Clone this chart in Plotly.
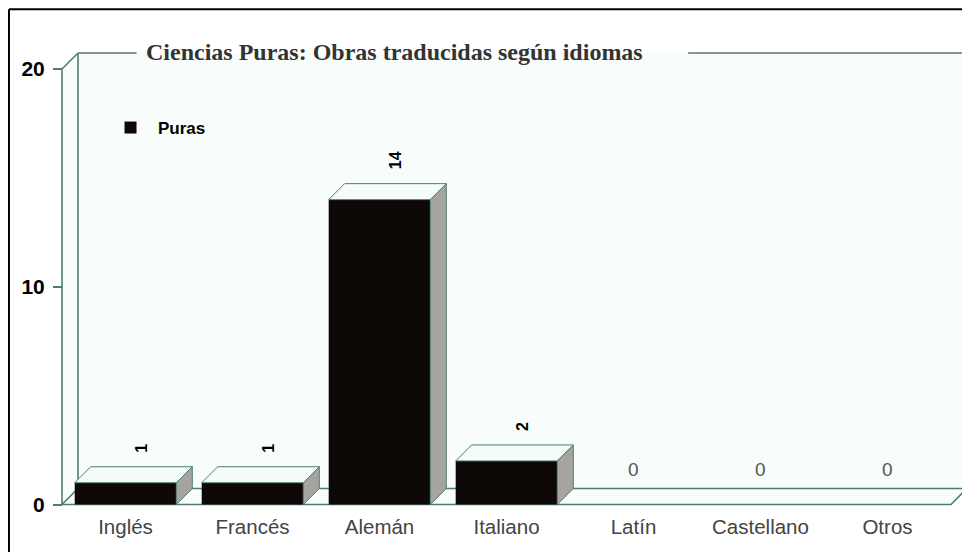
import plotly.graph_objects as go

idiomas = ['Inglés', 'Francés', 'Alemán', 'Italiano', 'Latín', 'Castellano', 'Otros']
obras = [1, 1, 14, 2, 0, 0, 0]
ticks_y = [0, 10, 20]

TITULO = 'Ciencias Puras: Obras traducidas según idiomas'
VERDE = '#4f7d6f'
FONDO = '#f8fdfb'

# escala en pixeles, para simular la profundidad 3D
PX_X = 127.0
PX_Y = 21.775
DX = 16 / PX_X
DY = 16 / PX_Y
ANCHO = 0.8
Y_MAX = 20
pos = list(range(len(idiomas)))
x_izq, x_der = -0.5, len(idiomas) - 0.5

fig = go.Figure()

fig.add_trace(go.Bar(
    x=pos, y=obras, width=ANCHO, name='Puras',
    marker=dict(color='#0e0907', line=dict(width=0)),
    hoverinfo='skip'))

# caras superiores y laterales de cada barra
for p, v in zip(pos, obras):
    if v == 0:
        continue
    a, b = p - ANCHO / 2, p + ANCHO / 2
    fig.add_trace(go.Scatter(
        x=[a, a + DX, b + DX, b, a], y=[v, v + DY, v + DY, v, v],
        mode='lines', fill='toself', fillcolor='#f3fcf8',
        line=dict(color=VERDE, width=1), showlegend=False, hoverinfo='skip'))
    fig.add_trace(go.Scatter(
        x=[b, b, b + DX, b + DX, b], y=[0, v, v + DY, DY, 0],
        mode='lines', fill='toself', fillcolor='#a5a49e',
        line=dict(color=VERDE, width=1), showlegend=False, hoverinfo='skip'))

shapes = []
linea = dict(color=VERDE, width=1.6)
# pared del fondo y lateral
shapes.append(dict(type='rect', xref='x', yref='y', layer='below',
                   x0=x_izq + DX, x1=x_der + DX, y0=DY, y1=Y_MAX + DY,
                   fillcolor=FONDO, line=dict(width=0)))
shapes.append(dict(type='path', xref='x', yref='y', layer='below',
                   path=f'M{x_izq},0 L{x_izq + DX},{DY} L{x_izq + DX},{Y_MAX + DY} L{x_izq},{Y_MAX} Z',
                   fillcolor=FONDO, line=dict(width=0)))
# suelo
shapes.append(dict(type='path', xref='x', yref='y', layer='below',
                   path=f'M{x_izq},0 L{x_der},0 L{x_der + DX},{DY} L{x_izq + DX},{DY} Z',
                   fillcolor=FONDO, line=linea))
for (x0, y0, x1, y1) in [
        (x_izq, 0, x_izq, Y_MAX),
        (x_izq + DX, DY, x_izq + DX, Y_MAX + DY),
        (x_izq, Y_MAX, x_izq + DX, Y_MAX + DY),
        (x_der + DX, DY, x_der + DX, Y_MAX + DY),
        (x_izq + DX, Y_MAX + DY, 0.087, Y_MAX + DY),
        (4.43, Y_MAX + DY, x_der + DX, Y_MAX + DY)]:
    shapes.append(dict(type='line', xref='x', yref='y', layer='below',
                       x0=x0, y0=y0, x1=x1, y1=y1, line=linea))
# marco exterior
shapes.append(dict(type='line', xref='paper', yref='paper',
                   x0=-0.039, x1=1.01, y0=1.065, y1=1.065,
                   line=dict(color='black', width=2)))
shapes.append(dict(type='line', xref='paper', yref='paper',
                   x0=-0.039, x1=-0.039, y0=1.065, y1=-0.1,
                   line=dict(color='black', width=2)))

annotations = []
for p, v in zip(pos, obras):
    if v > 0:
        annotations.append(dict(
            x=p + DX, y=v + DY, xref='x', yref='y', text=str(v),
            textangle=-90, showarrow=False, yanchor='bottom', yshift=12,
            font=dict(family='Liberation Sans, Arial', size=16, color='black', weight='bold')))
    else:
        annotations.append(dict(
            x=p, y=DY, xref='x', yref='y', text=str(v), showarrow=False,
            yanchor='bottom', yshift=7,
            font=dict(family='Liberation Sans, Arial', size=19, color='#555555')))

annotations.append(dict(
    x=2.12, y=Y_MAX + DY, xref='x', yref='y', text=f'<b>{TITULO}</b>',
    showarrow=False, yanchor='middle', yshift=1,
    font=dict(family='Liberation Serif, Times New Roman', size=24, color='#333333')))

# la pagina tiene 8px de margen en el body
fig.update_layout(
    width=962, height=544,
    margin=dict(l=37, r=1, t=32, b=40),
    paper_bgcolor='white', plot_bgcolor='white',
    shapes=shapes, annotations=annotations,
    showlegend=True,
    legend=dict(x=0.0628, y=0.8136, xanchor='left', yanchor='middle',
                itemwidth=45, bgcolor='rgba(0,0,0,0)',
                font=dict(family='Liberation Sans, Arial', size=17, color='black', weight='bold')),
    xaxis=dict(range=[-0.634, 6.642], tickvals=pos, ticktext=idiomas,
               showgrid=False, zeroline=False, showline=False, ticks='',
               tickfont=dict(family='Liberation Sans, Arial', size=20.5, color='#444444')),
    yaxis=dict(range=[-0.344, 21.33], tickvals=ticks_y, anchor='free',
               position=17 / 924, showgrid=False, zeroline=False, showline=False,
               ticks='outside', ticklen=9, tickwidth=1.6, tickcolor=VERDE,
               ticklabelstandoff=4,
               tickfont=dict(family='Liberation Sans, Arial', size=21, color='black', weight='bold')),
)

fig.write_html('out.html')
